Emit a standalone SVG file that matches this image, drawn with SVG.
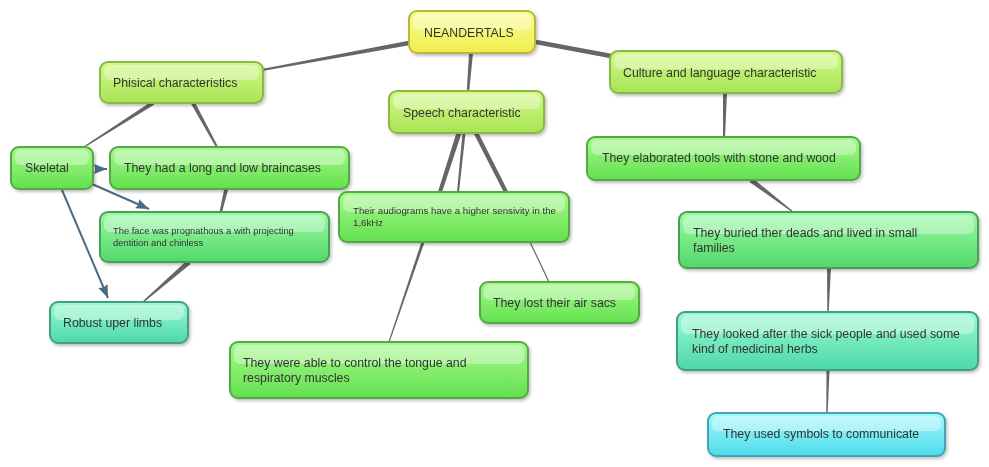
<svg xmlns="http://www.w3.org/2000/svg" width="989" height="467" viewBox="0 0 989 467">
<style>
text{font-family:"Liberation Sans",Arial,sans-serif;font-size:12.3px;fill:#333}
text.s{font-size:9.4px}
.box{stroke-width:2}
.hl{fill:#fff;opacity:0.35}
.c{fill:#666}
.a{stroke:#4b6a84;stroke-width:2;fill:none}
</style>
<defs>
<filter id="sh" x="-10%" y="-10%" width="125%" height="140%"><feDropShadow dx="1.5" dy="2" stdDeviation="1.5" flood-color="#000" flood-opacity="0.25"/></filter>
<linearGradient id="gY" x1="0" y1="0" x2="0" y2="1"><stop offset="0" stop-color="#fcfc9a"/><stop offset="1" stop-color="#eeee4c"/></linearGradient>
<linearGradient id="gL" x1="0" y1="0" x2="0" y2="1"><stop offset="0" stop-color="#d4f88a"/><stop offset="1" stop-color="#a8e454"/></linearGradient>
<linearGradient id="gG" x1="0" y1="0" x2="0" y2="1"><stop offset="0" stop-color="#a8fa8e"/><stop offset="1" stop-color="#62e04e"/></linearGradient>
<linearGradient id="gM" x1="0" y1="0" x2="0" y2="1"><stop offset="0" stop-color="#9cfaa4"/><stop offset="1" stop-color="#52d86a"/></linearGradient>
<linearGradient id="gT" x1="0" y1="0" x2="0" y2="1"><stop offset="0" stop-color="#9cfad2"/><stop offset="1" stop-color="#4cd8aa"/></linearGradient>
<linearGradient id="gC" x1="0" y1="0" x2="0" y2="1"><stop offset="0" stop-color="#a6f8fc"/><stop offset="1" stop-color="#4cdcea"/></linearGradient>
<marker id="ah" markerUnits="userSpaceOnUse" markerWidth="16" markerHeight="12" refX="13" refY="5" orient="auto"><path d="M0,0 L13,5 L0,10 L1.5,5 z" fill="#4b6a84"/></marker>
</defs>
<g id="connectors">
<polygon class="c" points="409.4,45.2 408.6,40.8 261.8,69 262.2,71"/>
<polygon class="c" points="469,53 473,53 469.2,91 466.8,91"/>
<line x1="536" y1="42" x2="611" y2="56" stroke="#666" stroke-width="4.5"/>
<polygon class="c" points="154.1,104.7 151.9,101.3 83.6,146.4 84.4,147.6"/>
<polygon class="c" points="194.8,102 191.2,104 216.1,147.5 217.9,146.5"/>
<polygon class="c" points="224,190 228,190 222,212 219.5,212"/>
<polygon class="c" points="190.6,263.9 187.4,260.1 142.5,301.4 143.5,302.6"/>
<polygon class="c" points="461.4,133.8 456.6,132.2 438.1,191.4 441.9,192.6"/>
<polygon class="c" points="465.5,133 462.5,133 457,192 459,192"/>
<polygon class="c" points="478,132 474,134 504.2,192.9 507.8,191.1"/>
<polygon class="c" points="424.4,242.5 421.6,241.5 388.5,341.8 389.5,342.2"/>
<line x1="530" y1="242" x2="549" y2="282" stroke="#666" stroke-width="1.2"/>
<polygon class="c" points="723,93 727,93 725,137 723,137"/>
<polygon class="c" points="752.5,178 749.5,182 792.7,212.4 793.3,211.6"/>
<polygon class="c" points="827,268 831,268 828.7,312 827.3,312"/>
<polygon class="c" points="826.5,370 829.5,370 827.7,413 826.3,413"/>
<line class="a" x1="95" y1="169" x2="107" y2="169" marker-end="url(#ah)"/>
<line class="a" x1="92" y1="184" x2="149" y2="209" marker-end="url(#ah)"/>
<line class="a" x1="62" y1="190" x2="108" y2="298" marker-end="url(#ah)"/>
</g>
<g id="neandertals" filter="url(#sh)">
<rect class="box" x="409" y="11" width="126" height="42" rx="8" fill="url(#gY)" stroke="#b9b83e"/>
<rect class="hl" x="413" y="14" width="118" height="16" rx="6"/>
<text x="424" y="37">NEANDERTALS</text>
</g>
<g id="phisical" filter="url(#sh)">
<rect class="box" x="100" y="62" width="163" height="41" rx="8" fill="url(#gL)" stroke="#88bb44"/>
<rect class="hl" x="104" y="65" width="155" height="15" rx="6"/>
<text x="113" y="87">Phisical characteristics</text>
</g>
<g id="speech" filter="url(#sh)">
<rect class="box" x="389" y="91" width="155" height="42" rx="8" fill="url(#gL)" stroke="#88bb44"/>
<rect class="hl" x="393" y="94" width="147" height="15" rx="6"/>
<text x="403" y="117">Speech characteristic</text>
</g>
<g id="culture" filter="url(#sh)">
<rect class="box" x="610" y="51" width="232" height="42" rx="8" fill="url(#gL)" stroke="#88bb44"/>
<rect class="hl" x="614" y="54" width="224" height="15" rx="6"/>
<text x="623" y="77">Culture and language characteristic</text>
</g>
<g id="skeletal" filter="url(#sh)">
<rect class="box" x="11" y="147" width="82" height="42" rx="8" fill="url(#gG)" stroke="#55a845"/>
<rect class="hl" x="15" y="150" width="74" height="15" rx="6"/>
<text x="25" y="172">Skeletal</text>
</g>
<g id="braincases" filter="url(#sh)">
<rect class="box" x="110" y="147" width="239" height="42" rx="8" fill="url(#gG)" stroke="#55a845"/>
<rect class="hl" x="114" y="150" width="231" height="15" rx="6"/>
<text x="124" y="172">They had a long and low braincases</text>
</g>
<g id="face" filter="url(#sh)">
<rect class="box" x="100" y="212" width="229" height="50" rx="8" fill="url(#gM)" stroke="#4a9f5a"/>
<rect class="hl" x="104" y="215" width="221" height="17" rx="6"/>
<text class="s" x="113" y="234">The face was prognathous a with projecting</text>
<text class="s" x="113" y="246">dentition and chinless</text>
</g>
<g id="robust" filter="url(#sh)">
<rect class="box" x="50" y="302" width="138" height="41" rx="8" fill="url(#gT)" stroke="#3f9f84"/>
<rect class="hl" x="54" y="305" width="130" height="15" rx="6"/>
<text x="63" y="327">Robust uper limbs</text>
</g>
<g id="audiograms" filter="url(#sh)">
<rect class="box" x="339" y="192" width="230" height="50" rx="8" fill="url(#gG)" stroke="#55a845"/>
<rect class="hl" x="343" y="195" width="222" height="17" rx="6"/>
<text class="s" x="353" y="214" style="font-size:9.7px">Their audiograms have a higher sensivity in the</text>
<text class="s" x="353" y="226" style="font-size:9.7px">1,6kHz</text>
</g>
<g id="airsacs" filter="url(#sh)">
<rect class="box" x="480" y="282" width="159" height="41" rx="8" fill="url(#gG)" stroke="#55a845"/>
<rect class="hl" x="484" y="285" width="151" height="15" rx="6"/>
<text x="493" y="307">They lost their air sacs</text>
</g>
<g id="tongue" filter="url(#sh)">
<rect class="box" x="230" y="342" width="298" height="56" rx="8" fill="url(#gG)" stroke="#55a845"/>
<rect class="hl" x="234" y="345" width="290" height="19" rx="6"/>
<text x="243" y="367">They were able to control the tongue and</text>
<text x="243" y="382">respiratory muscles</text>
</g>
<g id="tools" filter="url(#sh)">
<rect class="box" x="587" y="137" width="273" height="43" rx="8" fill="url(#gG)" stroke="#55a845"/>
<rect class="hl" x="591" y="140" width="265" height="15" rx="6"/>
<text x="602" y="162">They elaborated tools with stone and wood</text>
</g>
<g id="buried" filter="url(#sh)">
<rect class="box" x="679" y="212" width="299" height="56" rx="8" fill="url(#gM)" stroke="#4a9f5a"/>
<rect class="hl" x="683" y="215" width="291" height="19" rx="6"/>
<text x="693" y="237">They buried ther deads and lived in small</text>
<text x="693" y="252">families</text>
</g>
<g id="sick" filter="url(#sh)">
<rect class="box" x="677" y="312" width="301" height="58" rx="8" fill="url(#gT)" stroke="#3f9f84"/>
<rect class="hl" x="681" y="315" width="293" height="19" rx="6"/>
<text x="692" y="338">They looked after the sick people and used some</text>
<text x="692" y="353">kind of medicinal herbs</text>
</g>
<g id="symbols" filter="url(#sh)">
<rect class="box" x="708" y="413" width="237" height="43" rx="8" fill="url(#gC)" stroke="#3fa4b4"/>
<rect class="hl" x="712" y="416" width="229" height="15" rx="6"/>
<text x="723" y="438">They used symbols to communicate</text>
</g>
</svg>
